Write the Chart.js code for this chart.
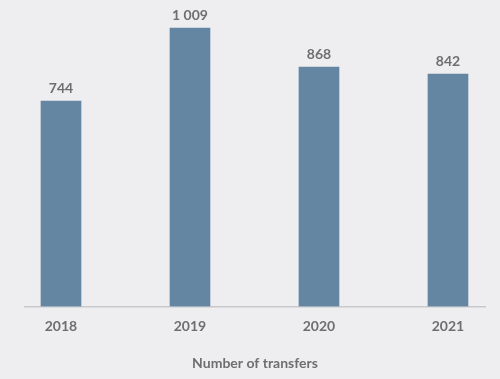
<!DOCTYPE html>
<html>
<head>
<meta charset="utf-8">
<script src="https://cdn.jsdelivr.net/npm/chart.js@4/dist/chart.umd.min.js"></script>
<style>
html,body{margin:0;padding:0;background:#eeeef0;}
#wrap{width:500px;height:379px;position:relative;}
</style>
</head>
<body>
<div id="wrap"><canvas id="c" width="500" height="379"></canvas></div>
<script>
const categories = ['2018', '2019', '2020', '2021'];
const transfers = [744, 1009, 868, 842];
const axisTitle = 'Number of transfers';

const points = categories.map((c, i) => ({ x: i, y: transfers[i] }));
const fmt = v => String(v).replace(/\B(?=(\d{3})+(?!\d))/g, ' ');

const valueLabels = {
  id: 'valueLabels',
  afterDatasetsDraw(chart) {
    const ctx = chart.ctx;
    const meta = chart.getDatasetMeta(0);
    ctx.save();
    ctx.font = 'bold 14px Lato';
    ctx.fillStyle = '#6e6e70';
    ctx.textAlign = 'center';
    ctx.textBaseline = 'bottom';
    meta.data.forEach((bar, i) => {
      ctx.fillText(fmt(transfers[i]), bar.x, bar.y - 6);
    });
    ctx.restore();
  }
};

new Chart(document.getElementById('c'), {
  type: 'bar',
  data: {
    datasets: [{
      data: points,
      backgroundColor: '#6586a3',
      barThickness: 40
    }]
  },
  options: {
    responsive: false,
    animation: false,
    layout: { padding: { left: 25, right: 15, top: 3, bottom: 0 } },
    plugins: { legend: { display: false }, tooltip: { enabled: false } },
    scales: {
      x: {
        type: 'linear',
        offset: false,
        min: -0.279,
        max: 3.287,
        grid: { display: false, drawTicks: false, tickLength: 0 },
        border: { display: true, color: '#c9c9cc', width: 1.5 },
        ticks: {
          stepSize: 1,
          autoSkip: false,
          includeBounds: false,
          padding: 12,
          color: '#6e6e70',
          font: { family: 'Lato', weight: 'bold', size: 14 },
          callback: v => (Number.isInteger(v) && categories[v] !== undefined) ? categories[v] : ''
        },
        title: {
          display: true,
          text: axisTitle,
          color: '#6e6e70',
          font: { family: 'Lato', weight: 'bold', size: 14 },
          padding: { top: 8, bottom: 7 }
        }
      },
      y: {
        display: false,
        min: 0,
        max: 1100
      }
    }
  },
  plugins: [valueLabels]
});
</script>
</body>
</html>
